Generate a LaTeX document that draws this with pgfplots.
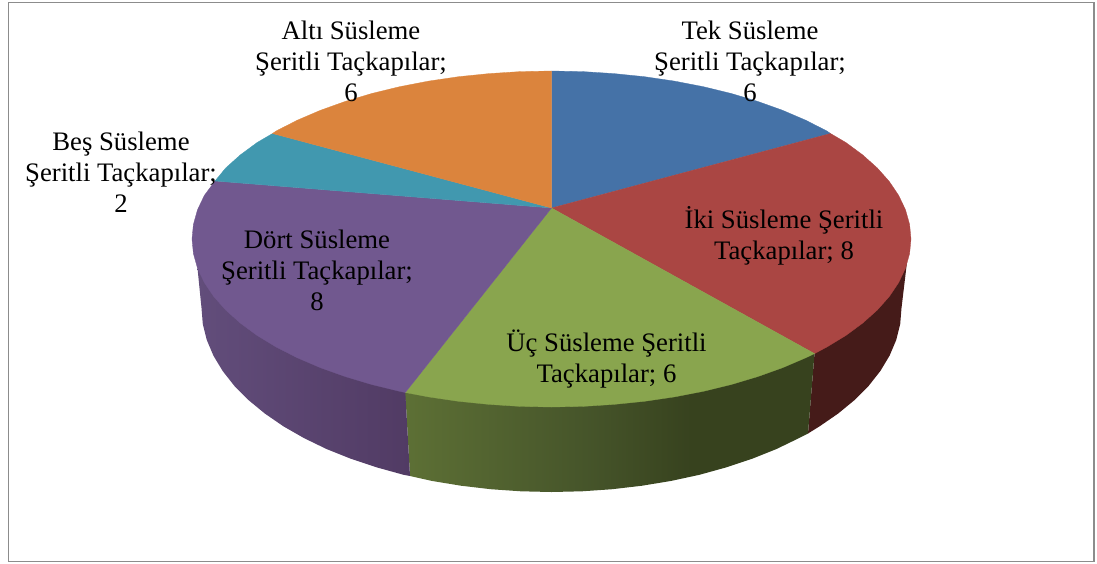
\documentclass[border=0pt]{standalone}
\usepackage{pgfplots}
\pgfplotsset{compat=1.18}
\usepackage{fontspec}
\setmainfont{Liberation Serif}
\definecolor{cblue}{HTML}{4572A7}
\definecolor{cred}{HTML}{AA4643}
\definecolor{cgreen}{HTML}{89A54E}
\definecolor{cpurple}{HTML}{71588F}
\definecolor{cteal}{HTML}{4198AF}
\definecolor{corange}{HTML}{DB843D}
\definecolor{sred}{HTML}{451B19}
\pgfdeclarehorizontalshading{greenside}{100bp}{rgb(0bp)=(0.365,0.439,0.208); rgb(25bp)=(0.365,0.439,0.208); rgb(47bp)=(0.275,0.333,0.165); rgb(60bp)=(0.216,0.259,0.118); rgb(100bp)=(0.216,0.259,0.118)}
\pgfdeclarehorizontalshading{purpleside}{100bp}{rgb(0bp)=(0.384,0.302,0.482); rgb(25bp)=(0.384,0.302,0.482); rgb(75bp)=(0.318,0.231,0.392); rgb(100bp)=(0.318,0.231,0.392)}
\begin{document}
\begin{tikzpicture}
\useasboundingbox (0,0) rectangle (1097pt,563pt);
\begin{axis}[
  at={(0,0)}, anchor=south west,
  scale only axis, width=1097pt, height=563pt,
  xmin=0, xmax=1097, ymin=0, ymax=563, y dir=reverse,
  hide axis, clip=false, no markers,
  every axis plot/.append style={forget plot},
]
% frame
\addplot[draw=black!45, line width=1.6pt, fill=none] coordinates {(8.5,2.5)(1094,2.5)(1094,561.5)(8.5,561.5)} -- cycle;
% side walls
\addplot[fill=sred, draw=none] coordinates {
(814.5,340)(907,262)(901.5,308)(900.2,324.0)(896.2,340.0)(889.6,355.6)(880.4,370.9)(868.7,385.8)(854.6,400.0)(838.2,413.5)(819.6,426.3)(808,433.5)(814.5,353.6)} -- cycle;
\addplot[shade, shading=greenside, draw=none] coordinates {
(405.3,392.5)(410,476)(431.8,480.9)(460.9,485.7)(490.7,489.2)(521.0,491.3)(551.5,492)(582.0,491.3)(612.3,489.2)(642.1,485.7)(671.2,480.9)(699.4,474.8)(726.5,467.3)(752.3,458.7)(776.5,449)(799.0,438.1)(808,433.5)(814.5,353.6)} -- cycle;
\addplot[shade, shading=purpleside, draw=none] coordinates {
(405.3,392.5)(410,476)(403.6,474.8)(376.5,467.3)(350.7,458.7)(326.5,449)(304.0,438.1)(283.4,426.3)(264.8,413.5)(248.4,400)(234.3,385.8)(222.6,370.9)(213.4,355.6)(206.8,340)(202.8,324)(201.5,308)(197.5,268.2)(260,300)} -- cycle;
% top sectors
\addplot[fill=cblue, draw=cblue, line width=.3pt] coordinates {
(551.5,208)(551.5,71)(582.8,71.6)(613.9,73.6)(644.5,76.7)(674.4,81.1)(703.4,86.7)(731.3,93.5)(757.7,101.4)(782.6,110.3)(805.7,120.2)(826.9,131.0)(830.5,133.5)} -- cycle;
\addplot[fill=cred, draw=cred, line width=.3pt] coordinates {
(551.5,208)(830.5,133.5)(846.0,142.6)(862.8,155.0)(877.3,168.0)(889.3,181.5)(898.7,195.5)(905.5,209.8)(909.6,224.4)(911,239)(909.6,253.6)(905.5,268.2)(898.7,282.5)(889.3,296.5)(877.3,310.0)(862.8,323.0)(846.0,335.4)(826.9,347.0)(814.5,353.6)} -- cycle;
\addplot[fill=cgreen, draw=cgreen, line width=.3pt] coordinates {
(551.5,208)(814.5,353.6)(805.7,357.8)(782.6,367.7)(757.7,376.6)(731.3,384.5)(703.4,391.3)(674.4,396.9)(644.5,401.3)(613.9,404.4)(582.8,406.4)(551.5,407)(520.2,406.4)(489.1,404.4)(458.5,401.3)(428.6,396.9)(405.3,392.5)} -- cycle;
\addplot[fill=cpurple, draw=cpurple, line width=.3pt] coordinates {
(551.5,208)(405.3,392.5)(399.6,391.3)(371.7,384.5)(345.3,376.6)(320.4,367.7)(297.3,357.8)(276.1,347.0)(257.0,335.4)(240.2,323.0)(225.7,310.0)(213.7,296.5)(204.3,282.5)(197.5,268.2)(193.4,253.6)(192,239)(193.4,224.4)(197.5,209.8)(204.3,195.5)(215,181)} -- cycle;
\addplot[fill=cteal, draw=cteal, line width=.3pt] coordinates {
(551.5,208)(215,181)(225.7,168.0)(240.2,155.0)(257.0,142.6)(272.5,133.5)} -- cycle;
\addplot[fill=corange, draw=corange, line width=.3pt] coordinates {
(551.5,208)(272.5,133.5)(276.1,131.0)(297.3,120.2)(320.4,110.3)(345.3,101.4)(371.7,93.5)(399.6,86.7)(428.6,81.1)(458.5,76.7)(489.1,73.6)(520.2,71.6)(551.5,71)} -- cycle;
% labels
\tikzset{lab/.style={align=center, inner sep=0pt, text=black, font=\fontsize{26.7}{31}\selectfont}}
\node[lab] at (axis cs:750,61) {Tek Süsleme\\Şeritli Taçkapılar;\\6};
\node[lab] at (axis cs:351,61) {Altı Süsleme\\Şeritli Taçkapılar;\\6};
\node[lab] at (axis cs:121,172) {Beş Süsleme\\Şeritli Taçkapılar;\\2};
\node[lab] at (axis cs:317,270) {Dört Süsleme\\Şeritli Taçkapılar;\\8};
\node[lab] at (axis cs:784,236) {İki Süsleme Şeritli\\Taçkapılar; 8};
\node[lab] at (axis cs:606.5,359.5) {Üç Süsleme Şeritli\\Taçkapılar; 6};
\end{axis}
\end{tikzpicture}
\end{document}
